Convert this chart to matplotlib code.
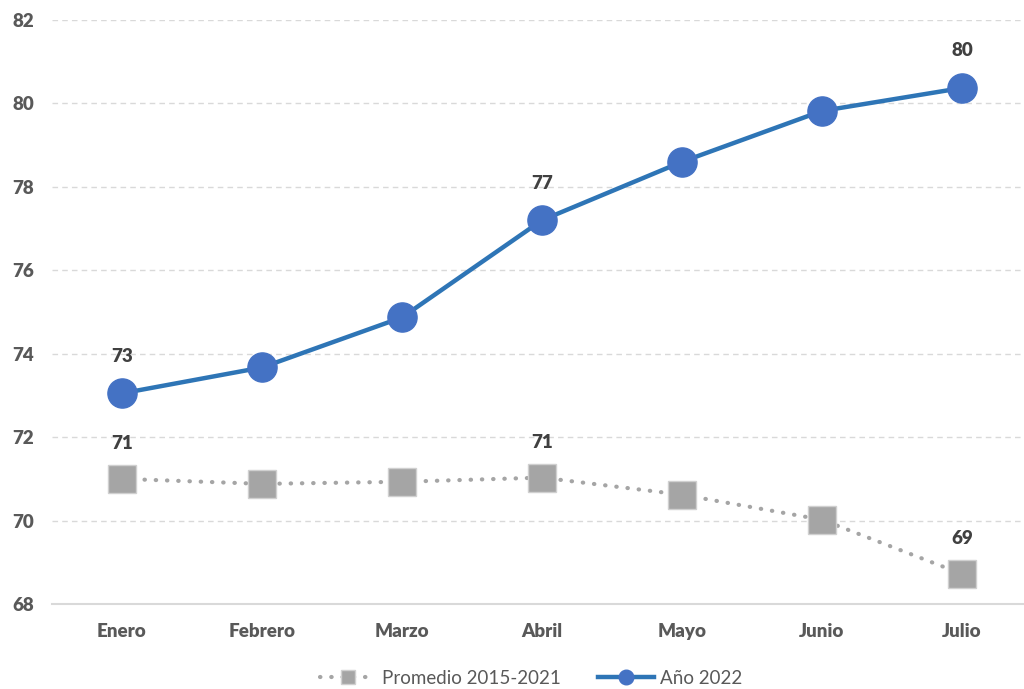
import matplotlib
matplotlib.use("Agg")
import matplotlib.pyplot as plt

meses = ["Enero", "Febrero", "Marzo", "Abril", "Mayo", "Junio", "Julio"]
promedio = [71.0, 70.88, 70.93, 71.03, 70.62, 70.02, 68.72]
anio_2022 = [73.05, 73.67, 74.87, 77.2, 78.6, 79.82, 80.37]
yticks = [68, 70, 72, 74, 76, 78, 80, 82]
labels_idx = [0, 3, 6]

plt.rcParams['font.family'] = ['Lato', 'DejaVu Sans']

fig = plt.figure(figsize=(10.24, 6.89), dpi=100)
W, H = 1024, 689
ax = fig.add_axes([52 / W, 1 - 604 / H, 980 / W, (604 - 20) / H])

x = list(range(len(meses)))
ax.plot(x, promedio, color="#A5A5A5", lw=3, linestyle=(0, (0.1, 2.6)),
        dash_capstyle="round", marker="s", markersize=20.5,
        markerfacecolor="#A5A5A5", markeredgecolor="#D0D0D0", markeredgewidth=1,
        label="Promedio 2015-2021", zorder=3)
ax.plot(x, anio_2022, color="#2E75B6", lw=3.2, marker="o", markersize=21,
        markerfacecolor="#4472C4", markeredgecolor="#4472C4",
        label="Año 2022", zorder=4)

for i in labels_idx:
    ax.annotate(f"{round(anio_2022[i]):d}", (x[i], anio_2022[i]), textcoords="offset pixels",
                xytext=(0, 37), ha="center", va="center", fontsize=13.5,
                fontweight="heavy", color="#404040")
    ax.annotate(f"{round(promedio[i]):d}", (x[i], promedio[i]), textcoords="offset pixels",
                xytext=(0, 35), ha="center", va="center", fontsize=13.5,
                fontweight="heavy", color="#404040")

ax.set_xlim(-0.5, 6.5)
ax.set_ylim(68, 82)
ax.set_yticks(yticks)
ax.set_xticks(x)
ax.set_xticklabels(meses)
ax.grid(axis="y", color="#D9D9D9", linestyle=(0, (4, 3)), lw=1)
ax.set_axisbelow(True)
for s in ["top", "right", "left"]:
    ax.spines[s].set_visible(False)
ax.spines["bottom"].set_color("#D9D9D9")
ax.spines["bottom"].set_linewidth(1.5)
ax.tick_params(axis="both", length=0, labelsize=13.5, labelcolor="#595959")
ax.tick_params(axis="x", pad=14)
ax.tick_params(axis="y", pad=13)
for t in ax.get_xticklabels() + ax.get_yticklabels():
    t.set_fontweight("heavy")

leg = fig.legend(loc="center", bbox_to_anchor=(531 / W, 1 - 678 / H), ncol=2, frameon=False,
                 fontsize=13.5, labelcolor="#595959", handlelength=3.0, columnspacing=2.0,
                 handletextpad=0.3, markerscale=0.5)

fig.savefig("out.png", dpi=100)
